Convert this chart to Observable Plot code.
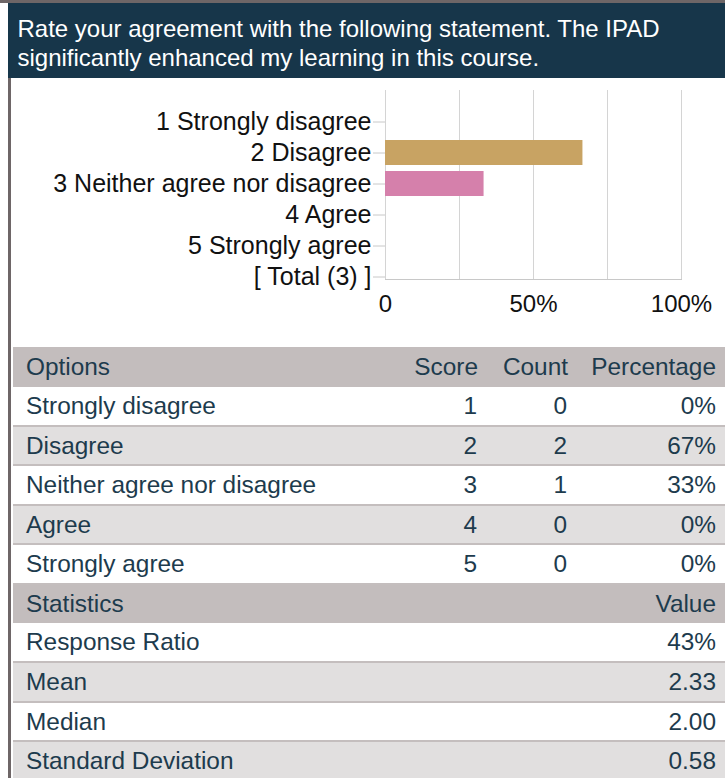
<!DOCTYPE html>
<html><head><meta charset="utf-8">
<script src="https://cdn.jsdelivr.net/npm/d3@7"></script>
<script src="https://cdn.jsdelivr.net/npm/@observablehq/plot@0.6"></script>
<style>
html,body{margin:0;padding:0;background:#fff;}
body{width:725px;height:778px;overflow:hidden;position:relative;font-family:"Liberation Sans",Arial,sans-serif;}
#topline{position:absolute;left:0;top:0;width:725px;height:3px;background:#6e6667;}
#leftline{position:absolute;left:8px;top:3px;width:3px;height:775px;background:#6e6667;}
#header{position:absolute;left:8px;top:3px;width:717px;height:75px;background:#17364a;color:#fff;font-size:24px;line-height:29px;box-sizing:border-box;padding:10.5px 0 0 9.5px;}
#chart{position:absolute;left:0;top:80px;}
#table{position:absolute;left:13px;top:347px;width:712px;color:#1d3b4d;font-size:24.4px;}
.row{position:relative;box-sizing:border-box;width:712px;}
.row span{position:absolute;top:0;white-space:nowrap;}
</style>
</head><body>
<div id="topline"></div>
<div id="leftline"></div>
<div id="header">Rate your agreement with the following statement. The IPAD significantly enhanced my learning in this course.</div>
<div id="chart"></div>
<div id="table"></div>
<script>
// ---- data ----
const categories = ["1 Strongly disagree", "2 Disagree", "3 Neither agree nor disagree", "4 Agree", "5 Strongly agree", "[ Total (3) ]"];
const barPercents = [0, 66.7, 33.3, 0, 0];
const barColors = ["#5b82b0", "#c8a363", "#d580ab", "#7aa56b", "#e08a4e"];
const xTicks = [0, 50, 100];
const xTickLabels = ["0", "50%", "100%"];
const gridTicks = [0, 25, 50, 75, 100];

const tableHeaders = ["Options", "Score", "Count", "Percentage"];
const optionLabels = ["Strongly disagree", "Disagree", "Neither agree nor disagree", "Agree", "Strongly agree"];
const scores = ["1", "2", "3", "4", "5"];
const counts = ["0", "2", "1", "0", "0"];
const pctLabels = ["0%", "67%", "33%", "0%", "0%"];
const statHeaders = ["Statistics", "Value"];
const statLabels = ["Response Ratio", "Mean", "Median", "Standard Deviation"];
const statValues = ["43%", "2.33", "2.00", "0.58"];

// ---- chart ----
const barData = barPercents.map((p, i) => ({category: categories[i], pct: p, color: barColors[i]}));
const font = '"Liberation Sans", Arial, sans-serif';
const chart = Plot.plot({
  width: 725,
  height: 240,
  marginTop: 10,
  marginBottom: 41,
  marginLeft: 385,
  marginRight: 44,
  style: {fontFamily: font, fontSize: "24px", color: "#222", background: "transparent"},
  x: {domain: [0, 100], axis: null},
  y: {domain: categories, range: [26.5, 212.5], paddingInner: 0.19, paddingOuter: 0.095, align: 0.5, axis: null},
  color: {type: "identity"},
  marks: [
    Plot.ruleX(gridTicks, {stroke: "#d4d4d4", strokeWidth: 1}),
    Plot.frame({anchor: "bottom", stroke: "#c8c8c8"}),
    Plot.barX(barData, {x: "pct", y: "category", fill: "color"}),
    Plot.axisY({tickSize: 12, tickPadding: 2, stroke: "#c8c8c8", fill: "#111", fontSize: 25, label: null}),
    Plot.axisX({ticks: xTicks, tickFormat: d => xTickLabels[xTicks.indexOf(d)], tickSize: 0, tickPadding: 15, fill: "#111", fontSize: 24, label: null})
  ]
});
document.getElementById("chart").appendChild(chart);

// ---- table ----
const table = d3.select("#table");
function addRow(h, bg, border, cells) {
  const r = table.append("div").attr("class", "row")
    .style("height", h + "px").style("line-height", (h - (border ? 2 : 0)) + "px")
    .style("background", bg)
    .style("border-bottom", border ? "2px solid #c4bebe" : "none");
  cells.forEach(c => {
    const s = r.append("span").text(c.text);
    if (c.left != null) s.style("left", c.left + "px");
    else s.style("right", c.right + "px");
  });
}
const colRight = [247, 157, 9];
addRow(40, "#c3bdbd", false, [
  {text: tableHeaders[0], left: 13},
  {text: tableHeaders[1], right: colRight[0]},
  {text: tableHeaders[2], right: colRight[1]},
  {text: tableHeaders[3], right: colRight[2]}
]);
optionLabels.forEach((o, i) => {
  addRow(39.6, i % 2 ? "#e1dfdf" : "#ffffff", true, [
    {text: o, left: 13},
    {text: scores[i], right: colRight[0] + 1},
    {text: counts[i], right: colRight[1] + 1},
    {text: pctLabels[i], right: colRight[2]}
  ]);
});
addRow(38, "#c3bdbd", false, [
  {text: statHeaders[0], left: 13},
  {text: statHeaders[1], right: colRight[2]}
]);
statLabels.forEach((s, i) => {
  addRow(i === 2 ? 39.5 : 40, i % 2 ? "#e1dfdf" : "#ffffff", true, [
    {text: s, left: 13},
    {text: statValues[i], right: colRight[2]}
  ]);
});
</script>
</body></html>
